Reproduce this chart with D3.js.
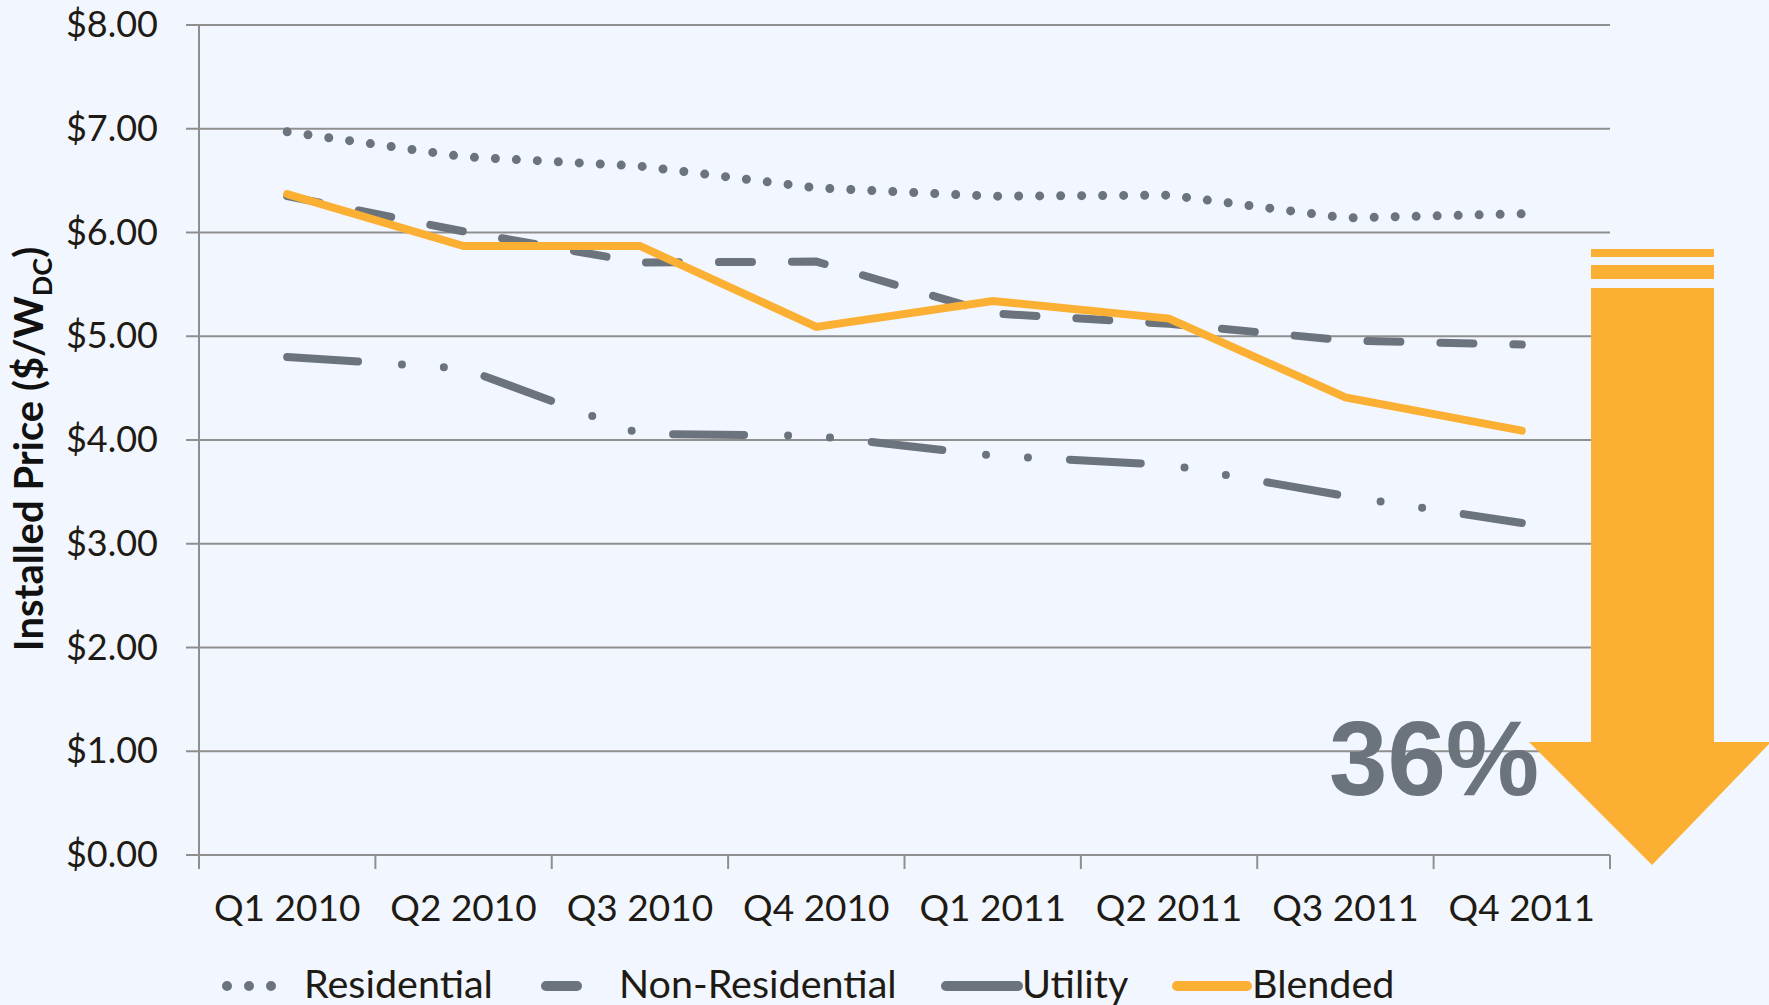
<!DOCTYPE html>
<html>
<head>
<meta charset="utf-8">
<script src="https://cdn.jsdelivr.net/npm/d3@7"></script>
<style>
  html, body { margin: 0; padding: 0; background: #f2f6fe; }
  svg { display: block; font-family: Lato, 'Noto Sans', sans-serif; }
</style>
</head>
<body>
<div class="chart"></div>
<script>
'use strict';

const quarters = ['Q1 2010', 'Q2 2010', 'Q3 2010', 'Q4 2010', 'Q1 2011', 'Q2 2011', 'Q3 2011', 'Q4 2011'];
const residential = [6.97, 6.73, 6.64, 6.43, 6.35, 6.36, 6.14, 6.18];
const nonResidential = [6.35, 6.01, 5.71, 5.72, 5.22, 5.12, 4.96, 4.92];
const utility = [4.80, 4.69, 4.06, 4.04, 3.85, 3.76, 3.46, 3.20];
const blended = [6.37, 5.87, 5.87, 5.09, 5.34, 5.17, 4.41, 4.09];
const yTicks = [0, 1, 2, 3, 4, 5, 6, 7, 8];
const dropLabel = '36%';

const FULL_WIDTH = 1769;
const FULL_HEIGHT = 1005;
const GRAY = '#6b737c';
const ORANGE = '#fbb034';
const GRID = '#8f8f8f';
const TEXT = '#1e1a14';

const margin = { top: 25, left: 199, right: 159, bottom: 150 };
const WIDTH = FULL_WIDTH - margin.left - margin.right;
const HEIGHT = FULL_HEIGHT - margin.top - margin.bottom;

const series = [
  { name: 'Residential', values: residential, color: GRAY, width: 9, dash: '0 21' },
  { name: 'Non-Residential', values: nonResidential, color: GRAY, width: 8, dash: '33 40' },
  { name: 'Utility', values: utility, color: GRAY, width: 8, dash: '71 44 0 42 0 42' },
  { name: 'Blended', values: blended, color: ORANGE, width: 8, dash: null }
];

const svg = d3.select('.chart')
  .append('svg')
    .attr('width', FULL_WIDTH)
    .attr('height', FULL_HEIGHT);

svg.append('rect')
  .attr('width', FULL_WIDTH)
  .attr('height', FULL_HEIGHT)
  .attr('fill', '#f2f6fe');

const g = svg.append('g')
  .attr('transform', 'translate(' + margin.left + ',' + margin.top + ')');

const x = d3.scaleBand()
  .domain(quarters)
  .range([0, WIDTH]);

const y = d3.scaleLinear()
  .domain([0, 8])
  .range([HEIGHT, 0]);

const cx = (i) => x(quarters[i]) + x.bandwidth() / 2;

// horizontal grid
g.append('g')
  .selectAll('line')
  .data(yTicks)
  .enter()
  .append('line')
    .attr('x1', -13)
    .attr('x2', WIDTH)
    .attr('y1', (d) => y(d))
    .attr('y2', (d) => y(d))
    .attr('stroke', GRID)
    .attr('stroke-width', 2);

// y axis labels
const yAxis = g.append('g')
  .call(d3.axisLeft(y)
    .tickValues(yTicks)
    .tickSize(13)
    .tickPadding(28)
    .tickFormat((d) => '$' + d.toFixed(2)));
yAxis.select('.domain').remove();
yAxis.selectAll('line').remove();
yAxis.selectAll('text')
  .attr('font-size', '36px')
  .attr('font-family', 'Lato, sans-serif')
  .attr('fill', TEXT);

// vertical axis line
g.append('line')
  .attr('x1', 0).attr('x2', 0)
  .attr('y1', y(8)).attr('y2', HEIGHT + 14)
  .attr('stroke', GRID)
  .attr('stroke-width', 2);

// x axis: labels at band centres, ticks on band edges
const xAxis = g.append('g')
  .attr('transform', 'translate(0,' + HEIGHT + ')')
  .call(d3.axisBottom(x).tickSize(0).tickPadding(40));
xAxis.select('.domain').remove();
xAxis.selectAll('text')
  .attr('font-size', '37px')
  .attr('font-family', 'Lato, sans-serif')
  .attr('fill', TEXT);

g.append('g')
  .selectAll('line')
  .data(quarters.map((q) => x(q)).concat([WIDTH]))
  .enter()
  .append('line')
    .attr('x1', (d) => d)
    .attr('x2', (d) => d)
    .attr('y1', HEIGHT)
    .attr('y2', HEIGHT + 14)
    .attr('stroke', GRID)
    .attr('stroke-width', 2);

// arrow
const arrowG = svg.append('g');
arrowG.append('rect')
  .attr('x', 1591).attr('y', 249).attr('width', 123).attr('height', 8)
  .attr('fill', ORANGE);
arrowG.append('rect')
  .attr('x', 1591).attr('y', 265).attr('width', 123).attr('height', 14)
  .attr('fill', ORANGE);
arrowG.append('path')
  .attr('d', 'M1591,288 L1714,288 L1714,742 L1769,742 L1769,744 L1652,865 L1529,742 L1591,742 Z')
  .attr('fill', ORANGE);

// series lines
const line = d3.line()
  .x((d, i) => cx(i))
  .y((d) => y(d));

series.forEach((s) => {
  g.append('path')
    .datum(s.values)
    .attr('d', line)
    .attr('fill', 'none')
    .attr('stroke', s.color)
    .attr('stroke-width', s.width)
    .attr('stroke-linecap', 'round')
    .attr('stroke-linejoin', 'miter')
    .attr('stroke-dasharray', s.dash);
});

// 36% label
svg.append('text')
  .attr('x', 1329)
  .attr('y', 795)
  .attr('font-family', '"Liberation Sans", Arial, sans-serif')
  .attr('font-weight', 'bold')
  .attr('font-size', '105px')
  .attr('fill', GRAY)
  .text(dropLabel);

// y axis title
const yTitle = svg.append('text')
  .attr('transform', 'translate(43,449) rotate(-90)')
  .attr('text-anchor', 'middle')
  .attr('font-family', 'Lato, sans-serif')
  .attr('font-weight', 'bold')
  .attr('font-size', '40px')
  .attr('fill', '#111');
yTitle.append('tspan').text('Installed Price ($/W');
yTitle.append('tspan').attr('font-size', '27px').attr('dy', 9).text('DC');
yTitle.append('tspan').attr('dy', -9).text(')');

// legend
const legendData = [
  { name: 'Residential', x1: 227, x2: 293, text: 304, dash: '0 22', color: GRAY, width: 10 },
  { name: 'Non-Residential', x1: 546, x2: 577, text: 619, dash: null, color: GRAY, width: 10 },
  { name: 'Utility', x1: 946, x2: 1018, text: 1022, dash: null, color: GRAY, width: 10 },
  { name: 'Blended', x1: 1177, x2: 1247, text: 1252, dash: null, color: ORANGE, width: 10 }
];

const legend = svg.append('g');
legendData.forEach((d) => {
  legend.append('line')
    .attr('x1', d.x1).attr('x2', d.x2)
    .attr('y1', 986).attr('y2', 986)
    .attr('stroke', d.color)
    .attr('stroke-width', d.width)
    .attr('stroke-linecap', 'round')
    .attr('stroke-dasharray', d.dash);
  legend.append('text')
    .attr('x', d.text)
    .attr('y', 998)
    .attr('font-family', 'Lato, sans-serif')
    .attr('font-size', '39.5px')
    .attr('fill', TEXT)
    .text(d.name);
});
</script>
</body>
</html>
